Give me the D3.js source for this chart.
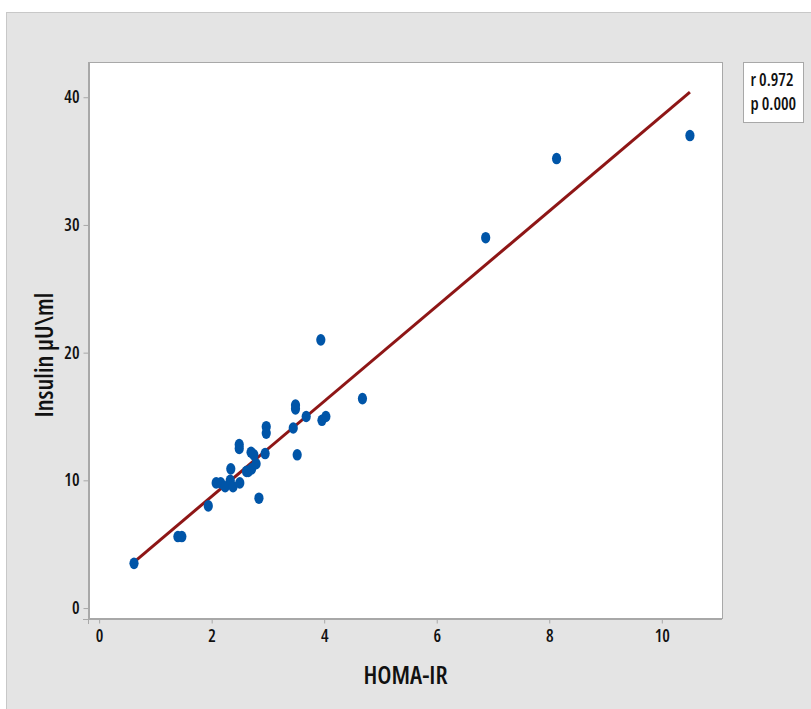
<!DOCTYPE html>
<html>
<head>
<meta charset="utf-8">
<script src="https://cdn.jsdelivr.net/npm/d3@7"></script>
<style>
  body { margin: 0; background: #fff; }
  text { font-family: "Open Sans", sans-serif; font-stretch: 80%; font-weight: 600; }
</style>
</head>
<body>
<div id="chart"></div>
<script>
// HOMA-IR vs insulin values
var homa = [0.62, 1.40, 1.47, 1.94, 2.08, 2.16, 2.24, 2.33, 2.38, 2.50, 2.34, 2.49, 2.49,
            2.62, 2.65, 2.71, 2.79, 2.70, 2.75, 2.84, 2.95, 2.97, 2.97, 3.45, 3.49, 3.49,
            3.52, 3.68, 3.94, 3.96, 4.03, 4.68, 6.87, 8.13, 10.5];
var insulin = [3.5, 5.6, 5.6, 8.0, 9.8, 9.8, 9.5, 10.0, 9.5, 9.8, 10.9, 12.5, 12.8,
               10.7, 10.7, 10.9, 11.3, 12.2, 12.0, 8.6, 12.1, 14.2, 13.7, 14.1, 15.6, 15.9,
               12.0, 15.0, 21.0, 14.7, 15.0, 16.4, 29.0, 35.2, 37.0];

// fitted line end points
var fitX = [0.62, 10.5];
var fitY = [3.6, 40.4];

var xTicks = [0, 2, 4, 6, 8, 10];
var yTicks = [0, 10, 20, 30, 40];
var stats = ["r 0.972", "p 0.000"];

var W = 811, H = 709;
var plot = {left: 89, top: 62, right: 722, bottom: 618};

var svg = d3.select("#chart").append("svg")
    .attr("width", W)
    .attr("height", H);

// grey panel
svg.append("rect")
    .attr("x", 6.5).attr("y", 12.5)
    .attr("width", W).attr("height", H)
    .attr("fill", "#e4e4e4")
    .attr("stroke", "#c8c8c8");

// plot area
svg.append("rect")
    .attr("x", plot.left + 0.5).attr("y", plot.top + 0.5)
    .attr("width", plot.right - plot.left).attr("height", plot.bottom - plot.top)
    .attr("fill", "#fff")
    .attr("stroke", "#a8a8a8");

var x = d3.scaleLinear().domain([-0.18, 11.07]).range([plot.left, plot.right]);
var y = d3.scaleLinear().domain([-0.78, 42.76]).range([plot.bottom, plot.top]);

// x axis
var gx = svg.append("g")
    .attr("transform", "translate(0," + (plot.bottom + 1.5) + ")")
    .call(d3.axisBottom(x).tickValues(xTicks).tickSize(4).tickPadding(6));
gx.select(".domain").attr("stroke", "#a8a8a8")
    .attr("d", "M" + (plot.left - 6) + ",0H" + plot.right);
gx.selectAll(".tick line").attr("stroke", "#a8a8a8");
gx.selectAll("text").attr("font-size", "17px").attr("fill", "#111");

// y axis
var gy = svg.append("g")
    .attr("transform", "translate(" + (plot.left - 0.5) + ",0)")
    .call(d3.axisLeft(y).tickValues(yTicks).tickSize(5).tickPadding(4));
gy.select(".domain").attr("stroke", "#a8a8a8")
    .attr("d", "M0," + plot.top + "V" + (plot.bottom + 6));
gy.selectAll(".tick line").attr("stroke", "#a8a8a8");
gy.selectAll("text").attr("font-size", "17px").attr("fill", "#111");
svg.selectAll("g").attr("font-family", null);

// regression line
svg.append("path")
    .datum(d3.zip(fitX, fitY))
    .attr("fill", "none")
    .attr("stroke", "#8e1616")
    .attr("stroke-width", 3)
    .attr("d", d3.line().x(function(d) { return x(d[0]); }).y(function(d) { return y(d[1]); }));

// points
svg.selectAll("ellipse.pt")
    .data(d3.zip(homa, insulin))
    .enter().append("ellipse")
    .attr("class", "pt")
    .attr("cx", function(d) { return x(d[0]); })
    .attr("cy", function(d) { return y(d[1]); })
    .attr("rx", 4.6)
    .attr("ry", 5.8)
    .attr("fill", "#0055a8");

// axis titles
svg.append("text")
    .attr("x", (plot.left + plot.right) / 2)
    .attr("y", 684)
    .attr("text-anchor", "middle")
    .attr("font-size", "25px")
    .attr("fill", "#111")
    .text("HOMA-IR");

svg.append("text")
    .attr("transform", "translate(53," + 355 + ") rotate(-90)")
    .attr("text-anchor", "middle")
    .attr("font-size", "25px")
    .attr("fill", "#111")
    .text("Insulin µU\\ml");

// stats box
var legend = svg.append("g").attr("transform", "translate(743.5,62.5)");
legend.append("rect")
    .attr("width", 60).attr("height", 60)
    .attr("fill", "#fff")
    .attr("stroke", "#a8a8a8");
legend.selectAll("text")
    .data(stats)
    .enter().append("text")
    .attr("x", 7)
    .attr("y", function(d, i) { return 23 + i * 24; })
    .attr("font-size", "17px")
    .attr("fill", "#111")
    .text(function(d) { return d; });
</script>
</body>
</html>
